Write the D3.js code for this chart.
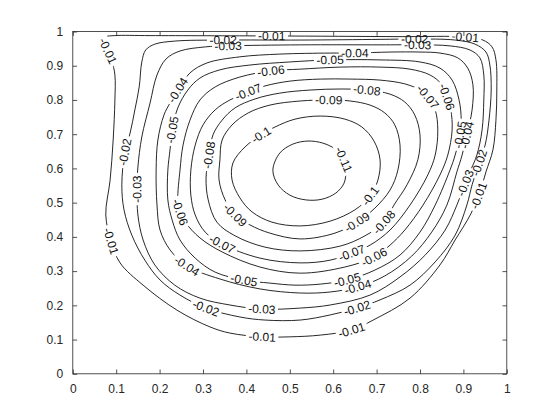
<!DOCTYPE html>
<html><head><meta charset="utf-8">
<script src="https://cdn.jsdelivr.net/npm/d3@7"></script>
<style>body{margin:0;background:#fff}</style>
</head><body>
<svg id="c" width="560" height="420"></svg>
<script>
// ---------- data ----------
const levels = [-0.01,-0.02,-0.03,-0.04,-0.05,-0.06,-0.07,-0.08,-0.09,-0.1,-0.11];
const xTicks = [0,0.1,0.2,0.3,0.4,0.5,0.6,0.7,0.8,0.9,1];
const yTicks = [0,0.1,0.2,0.3,0.4,0.5,0.6,0.7,0.8,0.9,1];
const xTickLabels = ["0","0.1","0.2","0.3","0.4","0.5","0.6","0.7","0.8","0.9","1"];
const yTickLabels = ["0","0.1","0.2","0.3","0.4","0.5","0.6","0.7","0.8","0.9","1"];

const contour_m01 = [[0.081,0.943],[0.090,0.914],[0.097,0.873],[0.097,0.800],[0.093,0.683],[0.086,0.566],[0.076,0.464],[0.088,0.388],[0.109,0.324],[0.162,0.259],[0.240,0.186],[0.316,0.137],[0.362,0.119],[0.436,0.108],[0.500,0.108],[0.570,0.113],[0.643,0.128],[0.692,0.157],[0.777,0.221],[0.846,0.318],[0.881,0.391],[0.917,0.467],[0.938,0.531],[0.952,0.590],[0.968,0.654],[0.975,0.741],[0.977,0.829],[0.975,0.917],[0.966,0.955],[0.945,0.975],[0.904,0.984],[0.754,0.985],[0.459,0.987],[0.178,0.988],[0.097,0.988],[0.076,0.984],[0.072,0.970]];
const contour_m02 = [[0.120,0.648],[0.132,0.703],[0.143,0.771],[0.153,0.838],[0.159,0.911],[0.168,0.946],[0.189,0.963],[0.235,0.972],[0.346,0.975],[0.524,0.975],[0.708,0.977],[0.788,0.978],[0.881,0.975],[0.927,0.963],[0.952,0.940],[0.961,0.902],[0.964,0.829],[0.959,0.741],[0.950,0.668],[0.936,0.616],[0.920,0.552],[0.908,0.493],[0.881,0.405],[0.835,0.327],[0.777,0.259],[0.708,0.216],[0.655,0.192],[0.593,0.172],[0.524,0.157],[0.443,0.157],[0.385,0.166],[0.307,0.192],[0.247,0.230],[0.201,0.274],[0.166,0.332],[0.136,0.405],[0.118,0.479],[0.113,0.552]];
const contour_m03 = [[0.148,0.540],[0.150,0.604],[0.159,0.692],[0.178,0.791],[0.194,0.873],[0.215,0.920],[0.247,0.943],[0.305,0.955],[0.358,0.958],[0.524,0.961],[0.708,0.961],[0.795,0.961],[0.869,0.958],[0.915,0.946],[0.938,0.923],[0.947,0.873],[0.947,0.800],[0.943,0.712],[0.931,0.639],[0.915,0.590],[0.904,0.557],[0.885,0.493],[0.858,0.420],[0.812,0.347],[0.754,0.283],[0.685,0.230],[0.593,0.201],[0.524,0.192],[0.436,0.189],[0.362,0.201],[0.293,0.221],[0.235,0.259],[0.189,0.318],[0.162,0.391],[0.150,0.464]];
const contour_m04 = [[0.242,0.829],[0.270,0.879],[0.309,0.908],[0.385,0.926],[0.477,0.934],[0.593,0.937],[0.650,0.937],[0.731,0.940],[0.800,0.940],[0.846,0.937],[0.887,0.923],[0.910,0.893],[0.922,0.844],[0.920,0.771],[0.908,0.698],[0.897,0.639],[0.885,0.590],[0.862,0.493],[0.827,0.414],[0.781,0.344],[0.719,0.286],[0.657,0.254],[0.593,0.239],[0.524,0.236],[0.431,0.248],[0.339,0.277],[0.263,0.315],[0.224,0.362],[0.201,0.420],[0.194,0.493],[0.192,0.595],[0.196,0.683],[0.210,0.756],[0.224,0.791]];
const contour_m05 = [[0.229,0.712],[0.242,0.777],[0.265,0.829],[0.293,0.864],[0.339,0.888],[0.408,0.902],[0.500,0.911],[0.593,0.917],[0.708,0.917],[0.800,0.911],[0.846,0.893],[0.874,0.858],[0.890,0.800],[0.895,0.741],[0.892,0.698],[0.881,0.639],[0.869,0.595],[0.835,0.493],[0.800,0.414],[0.754,0.347],[0.696,0.303],[0.632,0.274],[0.570,0.262],[0.512,0.259],[0.454,0.265],[0.394,0.274],[0.328,0.297],[0.282,0.338],[0.247,0.391],[0.229,0.449],[0.219,0.508],[0.219,0.595],[0.224,0.654]];
const contour_m06 = [[0.457,0.885],[0.524,0.890],[0.616,0.896],[0.708,0.896],[0.777,0.890],[0.823,0.873],[0.851,0.844],[0.862,0.809],[0.871,0.771],[0.874,0.712],[0.864,0.639],[0.846,0.581],[0.807,0.493],[0.765,0.420],[0.731,0.376],[0.694,0.341],[0.627,0.312],[0.524,0.294],[0.431,0.312],[0.344,0.356],[0.293,0.397],[0.259,0.443],[0.247,0.473],[0.242,0.508],[0.247,0.595],[0.254,0.668],[0.270,0.741],[0.293,0.800],[0.328,0.838],[0.385,0.867]];
const contour_m07 = [[0.404,0.823],[0.443,0.841],[0.500,0.855],[0.570,0.861],[0.639,0.861],[0.708,0.858],[0.765,0.847],[0.800,0.829],[0.818,0.809],[0.835,0.771],[0.841,0.712],[0.835,0.639],[0.818,0.581],[0.777,0.493],[0.731,0.420],[0.685,0.376],[0.643,0.353],[0.593,0.332],[0.524,0.324],[0.431,0.338],[0.344,0.379],[0.305,0.414],[0.282,0.464],[0.272,0.522],[0.272,0.595],[0.282,0.668],[0.300,0.727],[0.328,0.771],[0.362,0.800]];
const contour_m08 = [[0.314,0.639],[0.323,0.698],[0.344,0.741],[0.374,0.777],[0.420,0.803],[0.477,0.820],[0.547,0.829],[0.616,0.832],[0.678,0.829],[0.731,0.817],[0.765,0.794],[0.788,0.756],[0.800,0.698],[0.795,0.625],[0.770,0.552],[0.740,0.493],[0.717,0.443],[0.673,0.403],[0.616,0.373],[0.524,0.359],[0.443,0.370],[0.374,0.403],[0.332,0.443],[0.312,0.508],[0.307,0.572]];
const contour_m09 = [[0.590,0.800],[0.639,0.797],[0.685,0.785],[0.719,0.762],[0.742,0.727],[0.754,0.668],[0.749,0.595],[0.731,0.537],[0.696,0.484],[0.655,0.443],[0.604,0.411],[0.524,0.394],[0.454,0.411],[0.408,0.435],[0.374,0.464],[0.351,0.508],[0.337,0.566],[0.339,0.625],[0.344,0.683],[0.367,0.727],[0.404,0.762],[0.454,0.785],[0.524,0.797]];
const contour_m10 = [[0.434,0.698],[0.466,0.721],[0.512,0.744],[0.570,0.753],[0.627,0.744],[0.666,0.721],[0.694,0.680],[0.708,0.625],[0.703,0.566],[0.685,0.519],[0.650,0.479],[0.593,0.446],[0.524,0.432],[0.459,0.443],[0.413,0.473],[0.385,0.514],[0.367,0.566],[0.369,0.616],[0.397,0.663]];
const contour_m11 = [[0.461,0.595],[0.477,0.645],[0.507,0.671],[0.542,0.680],[0.576,0.674],[0.604,0.657],[0.623,0.630],[0.629,0.595],[0.625,0.557],[0.606,0.528],[0.574,0.510],[0.537,0.508],[0.500,0.522],[0.473,0.552]];

const labels_m01 = [[0.081,0.943],[0.088,0.388],[0.436,0.108],[0.643,0.128],[0.936,0.519],[0.904,0.984],[0.459,0.987]];
const labels_m02 = [[0.120,0.648],[0.307,0.192],[0.655,0.192],[0.936,0.616],[0.346,0.975],[0.788,0.978]];
const labels_m03 = [[0.148,0.540],[0.436,0.189],[0.904,0.557],[0.358,0.958],[0.795,0.961]];
const labels_m04 = [[0.242,0.829],[0.263,0.315],[0.657,0.254],[0.908,0.698],[0.650,0.937]];
const labels_m05 = [[0.229,0.712],[0.394,0.274],[0.632,0.274],[0.892,0.698],[0.593,0.917]];
const labels_m06 = [[0.457,0.885],[0.862,0.809],[0.694,0.341],[0.247,0.473]];
const labels_m07 = [[0.404,0.823],[0.818,0.809],[0.643,0.353],[0.344,0.379]];
const labels_m08 = [[0.314,0.639],[0.678,0.829],[0.717,0.443]];
const labels_m09 = [[0.590,0.800],[0.374,0.464],[0.655,0.443]];
const labels_m10 = [[0.434,0.698],[0.685,0.519]];
const labels_m11 = [[0.623,0.625]];

const contourData = [contour_m01,contour_m02,contour_m03,contour_m04,contour_m05,contour_m06,contour_m07,contour_m08,contour_m09,contour_m10,contour_m11];
const labelData = [labels_m01,labels_m02,labels_m03,labels_m04,labels_m05,labels_m06,labels_m07,labels_m08,labels_m09,labels_m10,labels_m11];

// ---------- drawing ----------
const W = 560, H = 420;
const fontFam = '"Liberation Sans", Arial, Helvetica, sans-serif';
const axColor = '#262626';
const fs = 12;
const x = d3.scaleLinear().domain([0,1]).range([72.8,506.8]);
const y = d3.scaleLinear().domain([0,1]).range([373.8,31.5]);

const svg = d3.select('#c');
svg.append('rect').attr('width',W).attr('height',H).attr('fill','#fff');
const defs = svg.append('defs');
const gLines = svg.append('g');
const gLabels = svg.append('g');

const line = d3.line().x(d=>x(d[0])).y(d=>y(d[1])).curve(d3.curveCatmullRomClosed.alpha(0.5));

levels.forEach((lev,i)=>{
  const path = gLines.append('path')
    .attr('d', line(contourData[i]))
    .attr('fill','none').attr('stroke','#000').attr('stroke-width',0.85);
  const node = path.node();
  const total = node.getTotalLength();
  const samples = [];
  for (let L=0; L<=total; L+=0.5) { const p=node.getPointAtLength(L); samples.push([p.x,p.y,L]); }
  const mask = defs.append('mask').attr('id','m'+i).attr('maskUnits','userSpaceOnUse')
    .attr('x',0).attr('y',0).attr('width',W).attr('height',H);
  mask.append('rect').attr('x',0).attr('y',0).attr('width',W).attr('height',H).attr('fill','#fff');
  labelData[i].forEach(a=>{
    const ax = x(a[0]), ay = y(a[1]);
    let best = samples[0], bd = Infinity;
    samples.forEach(s=>{ const d=(s[0]-ax)**2+(s[1]-ay)**2; if(d<bd){bd=d;best=s;} });
    const p1 = node.getPointAtLength(Math.max(0,best[2]-4));
    const p2 = node.getPointAtLength(Math.min(total,best[2]+4));
    let ang = Math.atan2(p2.y-p1.y, p2.x-p1.x)*180/Math.PI;
    if (ang > 90) ang -= 180;
    if (ang <= -90) ang += 180;
    const t = gLabels.append('text')
      .attr('transform',`translate(${best[0]},${best[1]}) rotate(${ang})`)
      .attr('text-anchor','middle').attr('dy','0.35em')
      .style('font-family',fontFam).style('font-size',fs+'px')
      .attr('fill','#111').text(String(lev));
    const w = t.node().getComputedTextLength();
    mask.append('rect').attr('x',-w/2-2.5).attr('y',-5.5).attr('width',w+5).attr('height',11)
      .attr('transform',`translate(${best[0]},${best[1]}) rotate(${ang})`).attr('fill','#000');
  });
  path.attr('mask','url(#m'+i+')');
});

// ---------- axes ----------
function styleAxis(g){
  g.select('.domain').remove();
  g.selectAll('line').attr('stroke',axColor).attr('stroke-width',0.8);
  g.selectAll('text').attr('fill',axColor).style('font-family',fontFam).style('font-size',fs+'px');
}
svg.append('g').attr('transform',`translate(0,${y(0)})`)
  .call(d3.axisBottom(x).tickValues(xTicks).tickFormat((d,i)=>xTickLabels[i]).tickSizeInner(-4.3).tickSizeOuter(0).tickPadding(10.5))
  .call(styleAxis);
svg.append('g').attr('transform',`translate(${x(0)},0)`)
  .call(d3.axisLeft(y).tickValues(yTicks).tickFormat((d,i)=>yTickLabels[i]).tickSizeInner(-4.3).tickSizeOuter(0).tickPadding(9.5))
  .call(styleAxis);
svg.append('g').attr('transform',`translate(0,${y(1)})`)
  .call(d3.axisTop(x).tickValues(xTicks).tickFormat('').tickSizeInner(-4.3).tickSizeOuter(0))
  .call(styleAxis);
svg.append('g').attr('transform',`translate(${x(1)},0)`)
  .call(d3.axisRight(y).tickValues(yTicks).tickFormat('').tickSizeInner(-4.3).tickSizeOuter(0))
  .call(styleAxis);
svg.append('rect').attr('x',x(0)).attr('y',y(1)).attr('width',x(1)-x(0)).attr('height',y(0)-y(1))
  .attr('fill','none').attr('stroke',axColor).attr('stroke-width',0.8);
</script>
</body></html>
